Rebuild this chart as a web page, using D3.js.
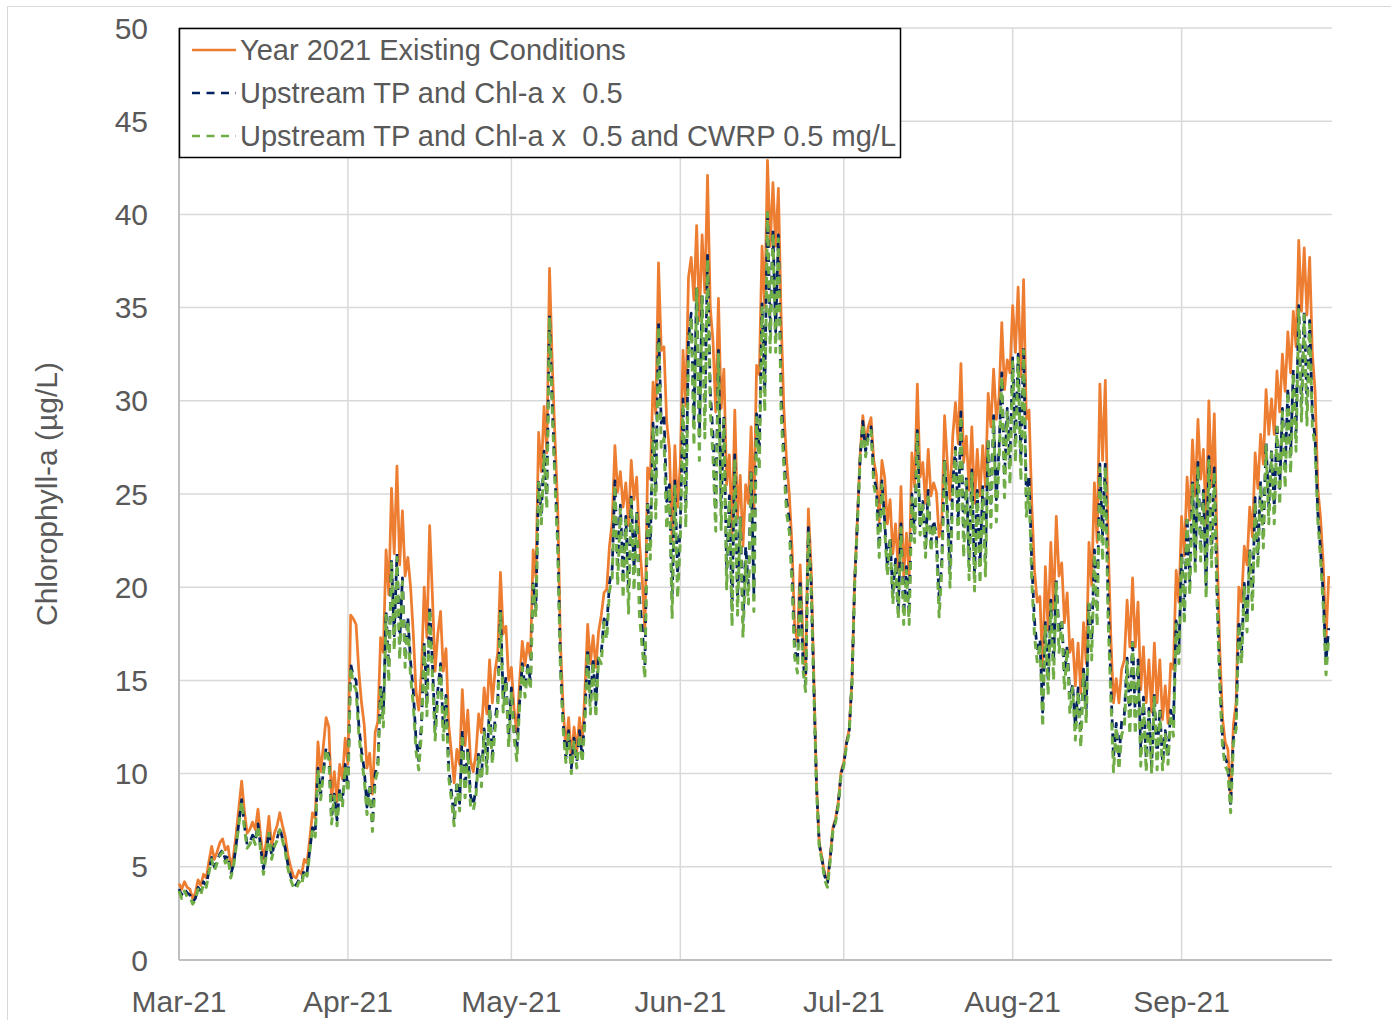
<!DOCTYPE html>
<html>
<head>
<meta charset="utf-8">
<script src="https://cdn.jsdelivr.net/npm/d3@7"></script>
<style>
  body { margin: 0; background: #fff; }
  svg text { font-family: "Liberation Sans", Arial, sans-serif; fill: #595959; }
</style>
</head>
<body>
<div id="chart"></div>
<script>
// values every 12 hours, starting 1 Mar 2021 00:00
const startDate = Date.UTC(2021, 2, 1);
const stepHours = 12;

const existing = [
  // Mar
  4.1,3.8,4.2,3.9,3.8,3.3,3.6,4.3,4.0,4.6,4.4,5.3,6.1,5.4,5.8,6.3,6.5,5.9,6.1,5.0,5.6,6.8,8.2,9.6,8.0,6.8,7.0,7.4,7.0,8.1,6.6,5.4,6.3,7.7,6.1,6.8,7.2,7.9,7.2,6.6,5.6,5.0,4.5,4.4,4.8,4.6,5.4,5.2,6.5,7.9,7.6,11.7,10.1,11.5,13.0,12.5,8.6,10.1,8.5,10.5,9.7,11.9,
  // Apr
  10.5,18.5,18.3,18.0,15.5,13.8,12.6,10.3,11.1,8.9,12.2,12.8,17.3,16.5,22.0,19.6,25.3,21.8,26.5,21.2,24.1,20.6,21.6,20.0,17.5,14.4,13.4,15.5,20.0,17.3,23.3,19.6,15.5,17.5,18.7,15.5,16.7,12.6,11.1,9.5,11.3,10.5,14.5,11.5,13.4,10.7,10.1,11.1,13.2,12.2,14.6,13.2,16.1,13.8,15.5,16.5,20.8,17.5,17.9,15.0,
  // May
  15.7,13.4,12.2,14.9,17.1,15.8,17.0,16.2,22.0,20.5,28.3,26.2,29.7,27.2,37.1,32.0,28.0,24.3,17.0,13.5,11.3,13.0,10.8,12.5,11.2,13.0,11.5,14.5,18.0,15.9,17.4,15.7,17.6,18.5,19.7,19.9,22.2,23.5,27.6,25.1,26.2,24.3,25.6,23.3,26.8,24.7,25.9,22.4,20.5,17.6,26.4,25.8,31.0,29.3,37.4,32.7,32.9,28.9,27.4,22.5,27.6,24.3,
  // Jun
  26.6,32.7,29.7,36.6,37.7,35.4,39.4,34.3,38.9,35.8,42.1,35.0,33.2,29.4,35.5,29.6,31.7,25.5,27.1,22.9,29.5,23.7,26.0,22.2,25.5,24.5,28.6,24.0,31.9,31.4,38.3,35.0,42.9,38.3,41.7,38.3,41.4,34.5,29.6,26.8,25.0,22.2,17.8,17.1,21.2,17.3,15.3,24.2,21.2,15.3,9.4,6.3,5.5,4.6,4.3,5.5,7.1,7.6,8.5,10.1,
  // Jul
  10.6,11.7,12.4,15.0,20.4,23.7,27.1,29.2,27.8,28.6,29.1,26.8,26.0,23.5,26.8,25.9,23.4,24.7,21.8,23.4,20.9,25.4,20.6,22.9,20.6,27.2,25.4,30.9,25.9,26.7,24.5,27.4,24.9,25.6,25.1,22.7,23.6,29.2,26.7,24.7,28.1,29.9,27.7,32.0,26.7,28.1,25.2,28.6,24.5,27.4,24.9,27.6,25.4,30.4,28.6,31.7,29.0,30.2,34.2,30.6,32.2,31.5,
  // Aug
  35.1,32.6,36.1,31.3,36.5,29.0,29.5,24.5,20.9,19.2,19.5,15.6,21.1,17.7,22.4,18.8,23.8,20.6,21.3,18.1,19.7,16.5,17.2,14.7,17.0,14.3,18.1,15.9,22.4,20.1,25.6,22.4,30.9,26.8,31.1,22.7,17.4,13.8,15.1,13.8,15.6,16.1,19.3,16.8,20.5,16.8,19.2,14.5,16.8,13.8,16.1,13.3,17.0,13.8,16.1,12.9,14.7,12.7,15.9,15.6,20.9,19.2,
  // Sep
  23.8,21.7,25.9,23.6,27.9,24.9,29.0,25.8,27.4,23.4,30.0,25.4,29.3,22.2,16.7,13.0,11.7,11.3,8.5,12.6,13.8,20.0,19.2,22.2,21.2,24.3,22.7,27.2,25.3,28.2,26.6,30.6,28.2,30.1,28.2,31.6,29.4,32.5,30.5,33.7,31.5,34.8,32.9,38.6,34.8,38.2,34.6,37.7,32.5,30.5,25.3,23.7,21.2,17.1,20.6
];

const upstreamHalf = [
  // Mar
  3.8,3.5,3.8,3.6,3.5,3.1,3.3,3.9,3.7,4.2,4.0,4.8,5.5,5.0,5.3,5.7,5.9,5.4,5.6,4.6,5.1,6.2,7.4,8.6,7.2,6.2,6.3,6.7,6.4,7.3,6.0,4.9,5.7,6.9,5.6,6.2,6.5,7.1,6.5,6.0,5.1,4.5,4.1,4.0,4.3,4.2,4.9,4.7,5.9,7.1,6.8,10.3,8.9,10.1,11.4,11.0,7.6,8.9,7.5,9.2,8.5,10.5,
  // Apr
  9.2,15.9,15.2,15.0,12.6,11.2,10.2,8.2,9.4,7.3,10.0,10.6,14.7,13.2,18.7,15.7,21.5,17.4,21.8,17.0,20.5,16.5,18.4,16.0,14.4,11.8,10.7,12.7,17.0,13.8,19.0,16.0,12.4,14.5,15.9,12.4,14.2,10.3,9.0,7.6,9.6,8.4,12.3,9.2,11.4,8.8,8.3,9.2,11.2,9.8,12.4,10.6,13.7,11.0,12.9,13.9,18.8,14.0,15.2,12.0,
  // May
  14.6,12.3,11.2,13.8,15.9,14.6,15.8,15.0,20.3,18.9,25.8,24.0,27.3,24.9,34.6,29.8,26.0,22.6,15.9,12.7,10.8,12.3,10.3,11.9,10.6,12.3,10.9,13.2,16.7,13.8,16.2,13.7,16.4,16.5,18.3,17.9,20.2,21.0,25.7,21.3,24.4,20.7,23.8,19.8,24.9,21.0,24.1,19.5,17.8,15.8,24.6,22.4,28.8,25.2,34.2,28.8,29.3,24.6,25.5,19.3,25.7,20.7,
  // Jun
  23.3,30.1,24.4,33.3,34.7,29.0,36.2,28.1,35.8,29.4,37.8,30.5,28.2,24.1,32.7,24.3,29.2,20.9,24.9,18.8,27.1,19.4,23.9,18.2,22.2,20.1,26.3,19.7,29.3,27.3,35.2,30.5,40.3,33.7,39.2,33.7,38.9,30.4,27.2,24.7,23.6,20.8,16.7,15.9,20.4,16.1,14.8,23.2,20.3,14.8,9.3,6.2,5.4,4.5,4.1,5.4,7.0,7.5,8.4,10.0,
  // Jul
  10.5,11.6,12.3,14.9,20.2,23.5,26.9,28.9,27.3,28.2,28.6,26.0,25.2,22.1,25.7,23.6,21.1,22.7,19.6,21.5,18.8,23.4,18.5,21.1,18.5,25.0,22.9,28.4,23.3,24.6,22.1,25.2,22.4,23.6,22.8,19.3,21.5,26.9,24.3,21.0,25.6,27.5,23.5,29.4,22.7,25.9,21.4,26.3,20.8,25.2,21.2,25.4,21.6,28.0,24.3,29.2,24.7,27.5,31.5,26.0,29.6,26.8,
  // Aug
  32.3,28.0,32.5,26.9,32.9,24.9,26.0,21.3,18.2,16.7,17.2,13.3,18.1,15.0,19.3,16.0,20.5,17.5,18.3,15.4,16.9,14.0,14.8,12.5,14.6,12.2,15.6,13.5,19.3,17.1,22.0,19.0,26.6,22.8,26.7,19.5,15.0,10.8,12.7,10.8,12.8,13.2,16.2,13.1,17.2,13.1,16.1,11.3,14.1,10.8,13.5,10.4,14.3,10.8,13.5,10.6,12.3,10.9,13.4,12.8,18.2,16.5,
  // Sep
  21.9,18.7,23.8,20.3,25.7,21.4,26.7,22.2,25.2,20.1,27.0,21.8,26.4,19.8,15.2,11.9,10.8,10.5,8.3,11.9,12.8,18.2,16.5,20.2,18.2,22.1,19.5,24.8,21.8,25.7,22.9,27.8,24.3,27.4,24.3,28.8,25.3,29.6,26.2,30.7,27.1,31.7,28.3,35.1,29.9,34.8,29.8,34.3,29.3,28.0,24.0,22.0,19.5,16.0,17.8
];

const upstreamHalfCwrp = [
  // Mar
  3.7,3.3,3.7,3.4,3.4,3.0,3.2,3.8,3.5,4.1,3.9,4.7,5.4,4.8,5.2,5.6,5.8,5.2,5.5,4.4,5.0,6.1,7.3,8.5,7.1,6.0,6.2,6.6,6.2,7.2,5.8,4.6,5.6,6.8,5.4,6.1,6.4,7.0,6.4,5.8,4.9,4.3,3.9,3.8,4.2,4.0,4.8,4.5,5.8,7.0,6.6,10.2,8.6,10.0,11.3,10.8,7.3,8.8,7.2,9.1,8.2,10.4,
  // Apr
  9.0,15.7,14.8,14.5,12.1,10.8,9.7,7.8,9.2,6.9,9.6,10.2,14.5,12.5,18.5,14.9,21.3,16.6,21.6,16.1,20.3,15.7,18.2,15.2,13.7,11.2,10.2,12.2,16.8,13.1,18.8,15.3,11.8,14.0,15.7,11.8,14.0,9.8,8.6,7.2,9.4,8.0,12.1,8.7,11.2,8.3,8.0,8.8,11.0,9.3,12.2,10.0,13.5,10.5,12.4,13.5,18.6,13.3,15.0,11.4,
  // May
  14.4,11.9,10.7,13.6,15.7,14.1,15.6,14.5,20.1,18.4,25.6,23.4,27.1,24.2,34.5,29.5,25.6,22.2,15.6,12.4,10.6,12.1,10.0,11.7,10.3,12.1,10.6,12.8,16.5,13.2,16.0,13.0,16.2,15.9,18.1,17.2,19.8,20.5,25.5,20.1,24.2,19.4,23.6,18.6,24.7,19.8,23.9,18.5,16.8,15.1,24.4,21.5,28.6,23.7,34.0,27.5,28.0,23.1,25.3,18.3,25.5,19.4,
  // Jun
  22.5,29.9,23.2,32.5,34.5,27.6,36.0,26.8,35.6,28.0,37.6,29.5,27.0,23.0,32.5,23.1,29.0,19.9,24.7,17.9,26.9,18.5,23.7,17.3,21.4,19.1,26.1,18.7,29.1,26.3,35.0,29.4,40.1,32.6,39.0,32.6,38.7,29.3,26.5,24.0,23.0,20.2,16.2,15.4,20.2,15.6,14.4,23.0,20.0,14.6,9.2,6.1,5.3,4.3,3.9,5.3,6.9,7.4,8.3,9.9,
  // Jul
  10.4,11.5,12.2,14.8,20.1,23.4,26.8,28.8,27.0,28.0,28.4,25.5,24.7,21.6,25.5,23.2,20.6,22.5,19.1,21.3,18.3,23.2,18.0,20.9,18.0,24.8,22.4,28.2,22.8,24.4,21.6,25.0,21.9,23.4,22.3,18.4,21.0,26.7,23.8,20.0,25.0,27.3,22.4,29.2,21.6,25.7,20.4,26.1,19.8,25.0,20.2,25.2,20.6,27.8,23.2,29.0,23.5,26.8,31.3,24.8,29.4,25.5,
  // Aug
  32.1,26.7,32.3,25.7,32.7,23.8,25.3,20.4,17.4,16.0,17.0,12.5,17.9,14.2,19.1,15.0,20.3,16.5,18.1,14.5,16.7,13.2,14.6,11.8,14.4,11.4,15.4,12.7,19.1,16.1,21.8,17.9,26.4,21.4,26.5,18.4,14.2,10.1,12.5,10.2,12.1,12.5,16.0,12.1,17.0,12.1,15.9,10.4,13.9,10.1,13.3,10.0,14.1,10.2,13.3,10.2,12.1,10.5,13.2,12.0,18.0,15.9,
  // Sep
  21.7,18.0,23.6,19.6,25.5,20.7,26.5,21.4,25.0,19.4,26.8,21.1,26.2,19.2,14.7,11.5,10.4,10.1,7.9,11.6,12.4,18.0,15.9,20.0,17.6,21.9,18.8,24.6,21.0,25.5,22.1,27.6,23.4,27.2,23.4,28.6,24.4,29.4,25.3,30.5,26.1,31.5,27.3,34.9,28.9,34.6,28.7,34.1,28.6,27.5,23.6,21.5,19.0,15.3,17.3
];

const monthTicks = ["2021-03-01", "2021-04-01", "2021-05-01", "2021-06-01", "2021-07-01", "2021-08-01", "2021-09-01"];
const yTicks = [0, 5, 10, 15, 20, 25, 30, 35, 40, 45, 50];
const seriesNames = [
  "Year 2021 Existing Conditions",
  "Upstream TP and Chl-a x  0.5",
  "Upstream TP and Chl-a x  0.5 and CWRP 0.5 mg/L"
];

const W = 1391, H = 1020;
const margin = {top: 28, right: 59, bottom: 60, left: 179};
const endDate = new Date(startDate + 211.6 * 24 * 3600 * 1000);

const svg = d3.select("#chart").append("svg")
  .attr("width", W)
  .attr("height", H);

// chart frame
svg.append("rect")
  .attr("x", 7.5).attr("y", 6.5)
  .attr("width", W + 20).attr("height", H + 20)
  .attr("fill", "#fff")
  .attr("stroke", "#d9d9d9");

const x = d3.scaleUtc()
  .domain([new Date(startDate), endDate])
  .range([margin.left, W - margin.right]);
const y = d3.scaleLinear()
  .domain([0, 50])
  .range([H - margin.bottom, margin.top]);

const fmt = d3.utcFormat("%b-%y");
const months = monthTicks.map(d => new Date(d + "T00:00:00Z"));

// gridlines
svg.append("g")
  .selectAll("line")
  .data(yTicks.slice(1))
  .join("line")
    .attr("x1", x.range()[0]).attr("x2", x.range()[1])
    .attr("y1", d => y(d)).attr("y2", d => y(d))
    .attr("stroke", "#d9d9d9").attr("stroke-width", 1.5);

svg.append("g")
  .selectAll("line")
  .data(months.slice(1))
  .join("line")
    .attr("x1", d => x(d)).attr("x2", d => x(d))
    .attr("y1", y(0)).attr("y2", y(50))
    .attr("stroke", "#d9d9d9").attr("stroke-width", 1.5);

// axis lines
svg.append("line")
  .attr("x1", x.range()[0]).attr("x2", x.range()[0])
  .attr("y1", y(0)).attr("y2", y(50))
  .attr("stroke", "#bfbfbf").attr("stroke-width", 2);
svg.append("line")
  .attr("x1", x.range()[0]).attr("x2", x.range()[1])
  .attr("y1", y(0)).attr("y2", y(0))
  .attr("stroke", "#bfbfbf").attr("stroke-width", 2);

// tick labels
svg.append("g")
  .selectAll("text")
  .data(yTicks)
  .join("text")
    .attr("x", 148)
    .attr("y", d => y(d))
    .attr("dy", "0.35em")
    .attr("text-anchor", "end")
    .style("font-size", "30px")
    .text(d => d);

svg.append("g")
  .selectAll("text")
  .data(months)
  .join("text")
    .attr("x", d => x(d))
    .attr("y", 1012)
    .attr("text-anchor", "middle")
    .style("font-size", "30px")
    .text(d => fmt(d));

svg.append("text")
  .attr("transform", `translate(57,${y(25)}) rotate(-90)`)
  .attr("text-anchor", "middle")
  .style("font-size", "30px")
  .text("Chlorophyll-a (µg/L)");

// series
const series = [
  {name: seriesNames[0], values: existing, color: "#ED7D31", width: 2.75, dash: null},
  {name: seriesNames[1], values: upstreamHalf, color: "#002060", width: 2.75, dash: "8,6"},
  {name: seriesNames[2], values: upstreamHalfCwrp, color: "#70AD47", width: 3, dash: "8,6"}
];

const line = d3.line()
  .x((d, i) => x(new Date(startDate + i * stepHours * 3600 * 1000)))
  .y(d => y(d));

svg.append("g")
  .attr("fill", "none")
  .selectAll("path")
  .data(series)
  .join("path")
    .attr("d", d => line(d.values))
    .attr("stroke", d => d.color)
    .attr("stroke-width", d => d.width)
    .attr("stroke-dasharray", d => d.dash)
    .attr("stroke-linejoin", "round");

// legend
const legend = svg.append("g");
legend.append("rect")
  .attr("x", 179.5).attr("y", 28.5)
  .attr("width", 721).attr("height", 129)
  .attr("fill", "#fff")
  .attr("stroke", "#000").attr("stroke-width", 1.5);

const rows = legend.selectAll("g.row")
  .data(series)
  .join("g")
    .attr("class", "row")
    .attr("transform", (d, i) => `translate(0,${50 + i * 43})`);
rows.append("line")
  .attr("x1", 192).attr("x2", 236)
  .attr("stroke", d => d.color)
  .attr("stroke-width", 2.5)
  .attr("stroke-dasharray", d => d.dash ? "8,6.5" : null);
rows.append("text")
  .attr("x", 240)
  .attr("dy", "0.35em")
  .style("font-size", "29px")
  .style("white-space", "pre")
  .text(d => d.name);
</script>
</body>
</html>
